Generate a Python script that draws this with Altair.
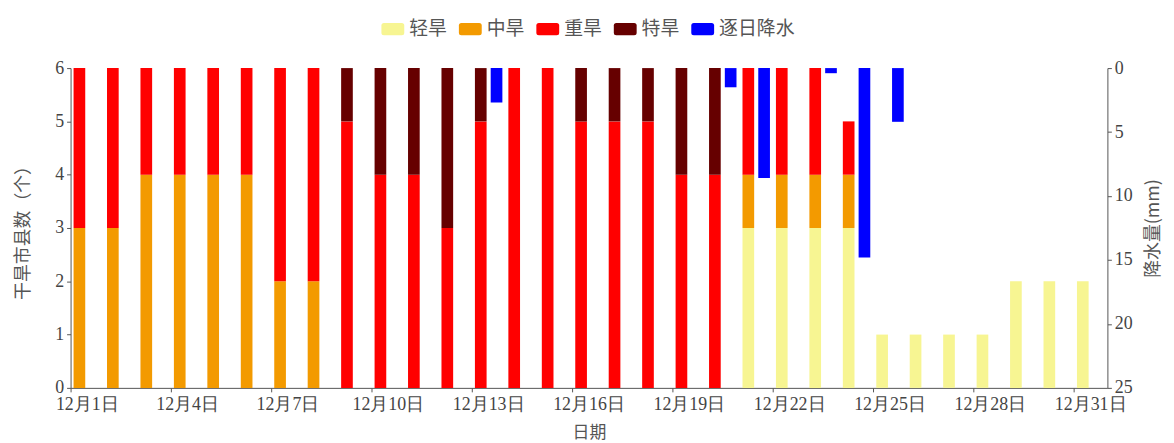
import altair as alt
import pandas as pd

days = [f"12月{d}日" for d in range(1, 32)]
levels = ["轻旱", "中旱", "重旱", "特旱", "逐日降水"]
colors = ["#F7F592", "#F39A00", "#FF0000", "#660000", "#0000FF"]

light    = [0, 0, 0, 0, 0, 0, 0, 0, 0, 0, 0, 0, 0, 0, 0, 0, 0, 0, 0, 0, 3, 3, 3, 3, 1, 1, 1, 1, 2, 2, 2]
moderate = [3, 3, 4, 4, 4, 4, 2, 2, 0, 0, 0, 0, 0, 0, 0, 0, 0, 0, 0, 0, 1, 1, 1, 1, 0, 0, 0, 0, 0, 0, 0]
severe   = [3, 3, 2, 2, 2, 2, 4, 4, 5, 4, 4, 3, 5, 6, 6, 5, 5, 5, 4, 4, 2, 2, 2, 1, 0, 0, 0, 0, 0, 0, 0]
extreme  = [0, 0, 0, 0, 0, 0, 0, 0, 1, 2, 2, 3, 1, 0, 0, 1, 1, 1, 2, 2, 0, 0, 0, 0, 0, 0, 0, 0, 0, 0, 0]
rain     = [0, 0, 0, 0, 0, 0, 0, 0, 0, 0, 0, 0, 2.7, 0, 0, 0, 0, 0, 0, 1.5, 8.6, 0, 0.4, 14.8, 4.2, 0, 0, 0, 0, 0, 0]

tick_days = days[::3]

rows = []
for i, d in enumerate(days):
    for k, (lv, arr) in enumerate(zip(levels[:4], [light, moderate, severe, extreme])):
        if arr[i] > 0:
            rows.append({"day": d, "level": lv, "count": arr[i], "ord": k, "grp": "a"})
drought_df = pd.DataFrame(rows)
rain_df = pd.DataFrame(
    [{"day": d, "level": "逐日降水", "rain": r, "grp": "b"} for d, r in zip(days, rain) if r > 0]
)

W, H = 1044, 322
LABEL_FONT = "Liberation Serif"
TITLE_FONT = "Noto Sans CJK SC"
GRAY = "#555555"

sym = ("M-0.78,-0.54 L0.78,-0.54 Q1,-0.54 1,-0.32 L1,0.32 Q1,0.54 0.78,0.54 "
       "L-0.78,0.54 Q-1,0.54 -1,0.32 L-1,-0.32 Q-1,-0.54 -0.78,-0.54 Z")

x_enc = alt.X(
    "day:N",
    scale=alt.Scale(domain=days, paddingInner=0, paddingOuter=0),
    axis=alt.Axis(
        values=tick_days, bandPosition=0, labelAngle=0,
        tickSize=4, labelPadding=4, labelFont=LABEL_FONT, labelFontSize=18,
        labelColor="#444444", domainColor=GRAY, tickColor=GRAY, grid=False,
        title="日期", titleFont=TITLE_FONT, titleFontSize=17, titleFontWeight="normal",
        titleColor=GRAY, titleX=W / 2, titleY=45, titleBaseline="middle", titleAlign="center",
    ),
)
xoff_enc = alt.XOffset("grp:N", scale=alt.Scale(domain=["a", "b"], paddingInner=0.26, paddingOuter=0.19))

color_enc = alt.Color(
    "level:N",
    scale=alt.Scale(domain=levels, range=colors),
    legend=alt.Legend(
        orient="none", legendX=313, legendY=-51, direction="horizontal", columns=5,
        title=None, symbolType=sym, symbolSize=529, symbolStrokeWidth=0, symbolOpacity=1,
        labelFont=TITLE_FONT, labelFontSize=19, labelColor=GRAY, labelOffset=5,
        columnPadding=11,
    ),
)

drought = alt.Chart(drought_df).mark_bar().encode(
    x=x_enc,
    xOffset=xoff_enc,
    y=alt.Y(
        "count:Q", stack="zero",
        scale=alt.Scale(domain=[0, 6], nice=False),
        axis=alt.Axis(
            values=[0, 1, 2, 3, 4, 5, 6], tickSize=4, labelPadding=3,
            labelFont=LABEL_FONT, labelFontSize=18, labelColor="#444444",
            domainColor=GRAY, tickColor=GRAY, grid=False,
            title="干旱市县数（个）", titleFont=TITLE_FONT, titleFontSize=18,
            titleFontWeight="normal", titleColor=GRAY, titleAngle=270,
            titleX=-47, titleY=H / 2, titleBaseline="middle", titleAlign="center",
        ),
    ),
    color=color_enc,
    order=alt.Order("ord:Q", sort="ascending"),
)

rainbars = alt.Chart(rain_df).mark_bar().encode(
    x=x_enc,
    xOffset=xoff_enc,
    y=alt.Y(
        "rain:Q",
        scale=alt.Scale(domain=[0, 25], reverse=True, nice=False),
        axis=alt.Axis(
            orient="right", values=[0, 5, 10, 15, 20, 25], tickSize=4, labelPadding=3,
            labelFont=LABEL_FONT, labelFontSize=18, labelColor="#444444",
            domainColor=GRAY, tickColor=GRAY, grid=False,
            title="降水量(mm)", titleFont=TITLE_FONT, titleFontSize=18,
            titleFontWeight="normal", titleColor=GRAY, titleAngle=270,
            titleX=46, titleY=H / 2, titleBaseline="middle", titleAlign="center",
        ),
    ),
    color=color_enc,
)

chart = (
    alt.layer(drought, rainbars)
    .resolve_scale(y="independent")
    .properties(
        width=W, height=H,
        autosize=alt.AutoSizeParams(type="none"),
        padding={"left": 63, "top": 59, "right": 59, "bottom": 54},
    )
    .configure_view(stroke=None)
)

chart.save("out.html", embed_options={"renderer": "svg", "actions": False})
